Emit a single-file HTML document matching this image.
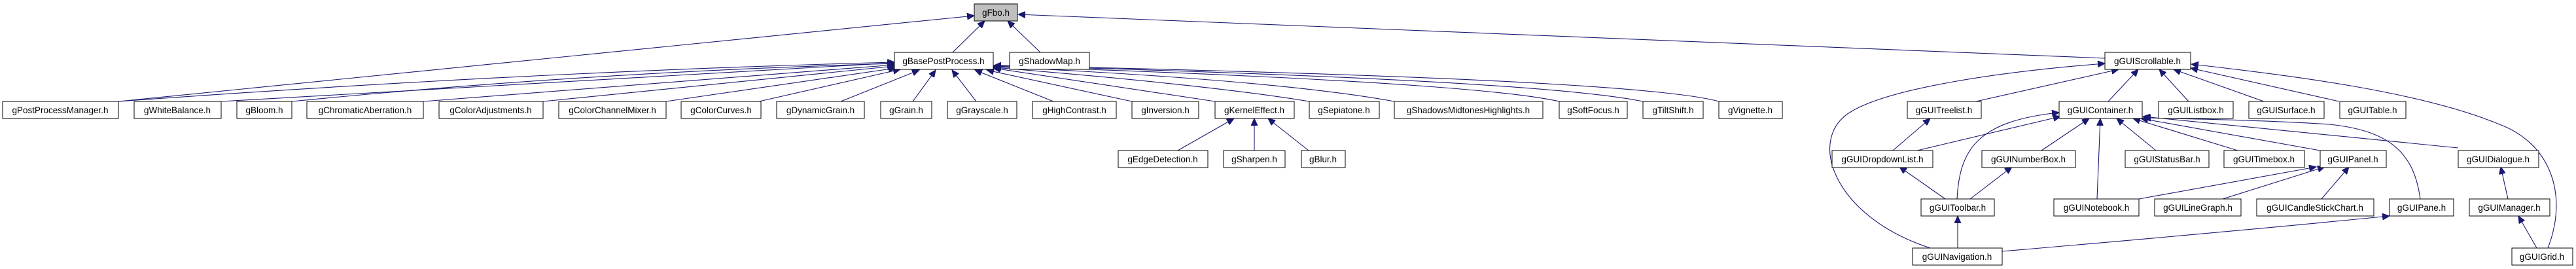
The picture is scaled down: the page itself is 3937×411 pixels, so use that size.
<!DOCTYPE html>
<html><head><meta charset="utf-8"><style>
html,body{margin:0;padding:0;background:#fff;}
svg{display:block;}
text{font-family:"Liberation Sans","DejaVu Sans",sans-serif;font-size:13.5px;fill:#000;text-anchor:middle;}
.b{fill:#fff;stroke:#000;stroke-width:1;}
.e{fill:none;stroke:#191970;stroke-width:1.1;marker-end:url(#a);}
</style></head><body>
<svg width="3937" height="411" viewBox="0 0 3937 411" xmlns="http://www.w3.org/2000/svg">
<defs><marker id="a" markerUnits="userSpaceOnUse" markerWidth="12" markerHeight="10" refX="11" refY="5" orient="auto"><path d="M0,0 L11,5 L0,10 z" fill="#191970" stroke="#191970"/></marker></defs>
<g>
<path class="e" d="M181,155 L1489,24"/>
<path class="e" d="M1456,80 L1505,32"/>
<path class="e" d="M1590,80 L1540,32"/>
<path class="e" d="M3217,89 L1556,22"/>
<path class="e" d="M181,155 Q800,110 1367,95"/>
<path class="e" d="M338,155 L1367,96"/>
<path class="e" d="M446,155 Q900,110 1367,97"/>
<path class="e" d="M647,155 L1367,99"/>
<path class="e" d="M830,155 L1367,101"/>
<path class="e" d="M1018,155 L1369,104"/>
<path class="e" d="M1160,155 L1376,106"/>
<path class="e" d="M1285,155 L1405,107"/>
<path class="e" d="M1395,155 L1430,107"/>
<path class="e" d="M1492,155 L1455,107"/>
<path class="e" d="M1610,155 L1490,107"/>
<path class="e" d="M1730,155 L1508,107"/>
<path class="e" d="M1857,155 L1518,104"/>
<path class="e" d="M2001,155 Q1850,130 1519,103"/>
<path class="e" d="M2131,155 Q1950,122 1519,102"/>
<path class="e" d="M2383,155 Q2250,125 1519,101"/>
<path class="e" d="M2511,155 Q2350,122 1519,100"/>
<path class="e" d="M2627,155 Q2500,120 1519,100"/>
<path class="e" d="M1800,230 L1886,181"/>
<path class="e" d="M1917,230 L1917,181"/>
<path class="e" d="M2000,230 L1938,181"/>
<path class="e" d="M3020,155 L3238,106"/>
<path class="e" d="M3222,155 L3268,106"/>
<path class="e" d="M3345,155 L3300,106"/>
<path class="e" d="M3460,155 L3322,106"/>
<path class="e" d="M3575,155 L3348,104"/>
<path class="e" d="M2950,379 C2800,330 2760,210 2830,170 C2890,135 3050,110 3217,97"/>
<path class="e" d="M3894,379 C3925,300 3900,220 3820,190 C3700,140 3500,115 3349,98"/>
<path class="e" d="M2930,230 L3149,178"/>
<path class="e" d="M2991,304 C2995,230 3020,185 3147,172"/>
<path class="e" d="M3120,230 L3193,181"/>
<path class="e" d="M3205,304 L3210,181"/>
<path class="e" d="M3295,230 L3235,181"/>
<path class="e" d="M3420,230 L3260,181"/>
<path class="e" d="M3546,230 L3272,181"/>
<path class="e" d="M3757,226 L3275,178"/>
<path class="e" d="M3699,304 C3690,240 3660,200 3560,190 C3450,183 3350,182 3276,180"/>
<path class="e" d="M2893,230 L2950,181"/>
<path class="e" d="M2973,304 L2903,255"/>
<path class="e" d="M3011,304 L3075,255"/>
<path class="e" d="M2992,379 L2992,330"/>
<path class="e" d="M3060,384 Q3400,355 3652,330"/>
<path class="e" d="M3269,304 L3540,255"/>
<path class="e" d="M3397,304 L3553,255"/>
<path class="e" d="M3548,304 L3590,255"/>
<path class="e" d="M3833,304 L3822,255"/>
<path class="e" d="M3877,379 L3849,330"/>
</g>
<g>
<rect x="1489" y="6" width="66" height="26" fill="#bfbfbf" stroke="#000"/><text x="1522" y="24">gFbo.h</text>
<rect class="b" x="1367" y="80" width="151" height="26"/><text x="1442" y="98">gBasePostProcess.h</text>
<rect class="b" x="1543" y="80" width="122" height="26"/><text x="1604" y="98">gShadowMap.h</text>
<rect class="b" x="3217" y="80" width="131" height="26"/><text x="3282" y="98">gGUIScrollable.h</text>

<rect class="b" x="4" y="155" width="177" height="26"/><text x="92" y="173">gPostProcessManager.h</text>
<rect class="b" x="205" y="155" width="133" height="26"/><text x="271" y="173">gWhiteBalance.h</text>
<rect class="b" x="362" y="155" width="84" height="26"/><text x="404" y="173">gBloom.h</text>
<rect class="b" x="469" y="155" width="178" height="26"/><text x="558" y="173">gChromaticAberration.h</text>
<rect class="b" x="671" y="155" width="159" height="26"/><text x="750" y="173">gColorAdjustments.h</text>
<rect class="b" x="854" y="155" width="164" height="26"/><text x="936" y="173">gColorChannelMixer.h</text>
<rect class="b" x="1041" y="155" width="122" height="26"/><text x="1102" y="173">gColorCurves.h</text>
<rect class="b" x="1187" y="155" width="134" height="26"/><text x="1254" y="173">gDynamicGrain.h</text>
<rect class="b" x="1346" y="155" width="78" height="26"/><text x="1385" y="173">gGrain.h</text>
<rect class="b" x="1448" y="155" width="106" height="26"/><text x="1501" y="173">gGrayscale.h</text>
<rect class="b" x="1578" y="155" width="128" height="26"/><text x="1642" y="173">gHighContrast.h</text>
<rect class="b" x="1730" y="155" width="102" height="26"/><text x="1781" y="173">gInversion.h</text>
<rect class="b" x="1857" y="155" width="121" height="26"/><text x="1917" y="173">gKernelEffect.h</text>
<rect class="b" x="2001" y="155" width="107" height="26"/><text x="2054" y="173">gSepiatone.h</text>
<rect class="b" x="2131" y="155" width="227" height="26"/><text x="2244" y="173">gShadowsMidtonesHighlights.h</text>
<rect class="b" x="2383" y="155" width="104" height="26"/><text x="2435" y="173">gSoftFocus.h</text>
<rect class="b" x="2511" y="155" width="92" height="26"/><text x="2557" y="173">gTiltShift.h</text>
<rect class="b" x="2627" y="155" width="97" height="26"/><text x="2675" y="173">gVignette.h</text>
<rect class="b" x="2915" y="155" width="113" height="26"/><text x="2971" y="173">gGUITreelist.h</text>
<rect class="b" x="3147" y="155" width="127" height="26"/><text x="3210" y="173">gGUIContainer.h</text>
<rect class="b" x="3299" y="155" width="114" height="26"/><text x="3356" y="173">gGUIListbox.h</text>
<rect class="b" x="3437" y="155" width="115" height="26"/><text x="3494" y="173">gGUISurface.h</text>
<rect class="b" x="3576" y="155" width="101" height="26"/><text x="3626" y="173">gGUITable.h</text>

<rect class="b" x="1709" y="230" width="137" height="26"/><text x="1777" y="248">gEdgeDetection.h</text>
<rect class="b" x="1870" y="230" width="94" height="26"/><text x="1917" y="248">gSharpen.h</text>
<rect class="b" x="1989" y="230" width="67" height="26"/><text x="2022" y="248">gBlur.h</text>
<rect class="b" x="2800" y="230" width="154" height="26"/><text x="2877" y="248">gGUIDropdownList.h</text>
<rect class="b" x="3029" y="230" width="143" height="26"/><text x="3100" y="248">gGUINumberBox.h</text>
<rect class="b" x="3248" y="230" width="128" height="26"/><text x="3312" y="248">gGUIStatusBar.h</text>
<rect class="b" x="3399" y="230" width="123" height="26"/><text x="3460" y="248">gGUITimebox.h</text>
<rect class="b" x="3546" y="230" width="101" height="26"/><text x="3596" y="248">gGUIPanel.h</text>
<rect class="b" x="3757" y="230" width="123" height="26"/><text x="3818" y="248">gGUIDialogue.h</text>

<rect class="b" x="2936" y="304" width="112" height="26"/><text x="2992" y="322">gGUIToolbar.h</text>
<rect class="b" x="3139" y="304" width="130" height="26"/><text x="3204" y="322">gGUINotebook.h</text>
<rect class="b" x="3293" y="304" width="132" height="26"/><text x="3359" y="322">gGUILineGraph.h</text>
<rect class="b" x="3449" y="304" width="179" height="26"/><text x="3538" y="322">gGUICandleStickChart.h</text>
<rect class="b" x="3652" y="304" width="98" height="26"/><text x="3701" y="322">gGUIPane.h</text>
<rect class="b" x="3774" y="304" width="123" height="26"/><text x="3835" y="322">gGUIManager.h</text>

<rect class="b" x="2923" y="379" width="137" height="26"/><text x="2991" y="397">gGUINavigation.h</text>
<rect class="b" x="3839" y="379" width="93" height="26"/><text x="3885" y="397">gGUIGrid.h</text>
</g>
</svg>
</body></html>
